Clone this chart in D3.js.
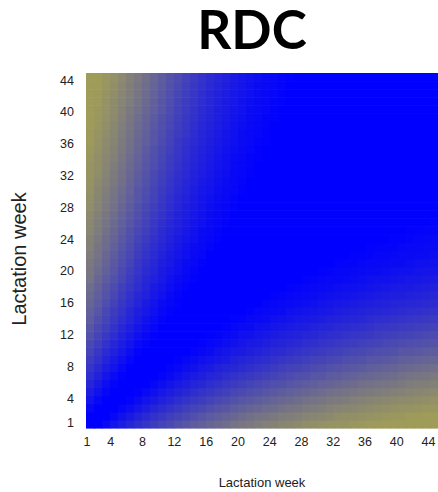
<!DOCTYPE html>
<html>
<head>
<meta charset="utf-8">
<script src="https://cdn.jsdelivr.net/npm/d3@7"></script>
<style>
  body { margin: 0; background: #fff; }
  .tick text { font-family: "Liberation Sans", Arial, sans-serif; font-size: 12.5px; fill: #222; }
</style>
</head>
<body>
<svg id="chart" width="438" height="492"></svg>
<script>
const weeks = [1, 2, 3, 4, 5, 6, 7, 8, 9, 10, 11, 12, 13, 14, 15, 16, 17, 18, 19, 20, 21, 22,
  23, 24, 25, 26, 27, 28, 29, 30, 31, 32, 33, 34, 35, 36, 37, 38, 39, 40, 41, 42, 43, 44];
const tickWeeks = [1, 4, 8, 12, 16, 20, 24, 28, 32, 36, 40, 44];

// correlation of week a with weeks a..44 (matrix is symmetric)
const rdc = [
  [1.00,.94,.88,.83,.78,.73,.69,.65,.61,.57,.54,.50,.47,.44,.42,.39,.37,.35,.32,.30,.29,.27,.25,.24,.22,.21,.20,.18,.17,.16,.15,.14,.14,.13,.12,.11,.11,.10,.09,.09,.08,.08,.07,.07],
  [1.00,.95,.89,.84,.80,.75,.71,.67,.64,.60,.57,.54,.51,.48,.45,.43,.41,.38,.36,.34,.32,.31,.29,.27,.26,.25,.23,.22,.21,.20,.18,.17,.17,.16,.15,.14,.13,.12,.12,.11,.11,.10,.09],
  [1.00,.95,.90,.86,.82,.78,.74,.70,.67,.63,.60,.57,.55,.52,.49,.47,.44,.42,.40,.38,.36,.35,.33,.31,.30,.28,.27,.26,.24,.23,.22,.21,.20,.19,.18,.17,.16,.15,.15,.14,.13,.13],
  [1.00,.96,.91,.87,.83,.80,.76,.73,.69,.66,.63,.61,.58,.55,.53,.50,.48,.46,.44,.42,.40,.38,.37,.35,.33,.32,.31,.29,.28,.27,.25,.24,.23,.22,.21,.20,.19,.19,.18,.17,.16],
  [1.00,.96,.92,.88,.85,.81,.78,.75,.72,.69,.66,.64,.61,.59,.56,.54,.52,.50,.48,.46,.44,.42,.41,.39,.37,.36,.34,.33,.32,.30,.29,.28,.27,.26,.25,.24,.23,.22,.21,.20],
  [1.00,.96,.93,.90,.86,.83,.80,.77,.74,.72,.69,.67,.64,.62,.60,.57,.55,.53,.51,.50,.48,.46,.44,.43,.41,.40,.38,.37,.36,.34,.33,.32,.31,.30,.29,.27,.26,.26,.25],
  [1.00,.97,.94,.91,.88,.85,.82,.79,.77,.74,.72,.69,.67,.65,.63,.61,.59,.57,.55,.53,.51,.50,.48,.47,.45,.44,.42,.41,.39,.38,.37,.36,.35,.33,.32,.31,.30,.29],
  [1.00,.97,.94,.91,.89,.86,.84,.81,.79,.76,.74,.72,.70,.68,.66,.64,.62,.60,.58,.57,.55,.53,.52,.50,.49,.47,.46,.45,.43,.42,.41,.40,.38,.37,.36,.35,.34],
  [1.00,.97,.95,.92,.90,.87,.85,.83,.81,.79,.76,.74,.72,.70,.69,.67,.65,.63,.62,.60,.58,.57,.55,.54,.52,.51,.50,.48,.47,.46,.45,.43,.42,.41,.40,.39],
  [1.00,.98,.95,.93,.91,.89,.87,.84,.82,.80,.79,.77,.75,.73,.71,.70,.68,.66,.65,.63,.62,.60,.59,.57,.56,.55,.53,.52,.51,.50,.48,.47,.46,.45,.44],
  [1.00,.98,.96,.94,.92,.90,.88,.86,.84,.82,.80,.79,.77,.75,.74,.72,.71,.69,.68,.66,.65,.63,.62,.61,.59,.58,.57,.55,.54,.53,.52,.51,.50,.49],
  [1.00,.98,.96,.94,.92,.91,.89,.87,.85,.84,.82,.81,.79,.77,.76,.75,.73,.72,.70,.69,.68,.66,.65,.64,.63,.61,.60,.59,.58,.57,.56,.54,.53],
  [1.00,.98,.97,.95,.93,.92,.90,.88,.87,.85,.84,.82,.81,.79,.78,.77,.75,.74,.73,.71,.70,.69,.68,.67,.65,.64,.63,.62,.61,.60,.59,.58],
  [1.00,.98,.97,.95,.94,.92,.91,.89,.88,.87,.85,.84,.83,.81,.80,.79,.78,.76,.75,.74,.73,.72,.70,.69,.68,.67,.66,.65,.64,.63,.62],
  [1.00,.99,.97,.96,.94,.93,.92,.90,.89,.88,.87,.85,.84,.83,.82,.81,.80,.78,.77,.76,.75,.74,.73,.72,.71,.70,.69,.68,.67,.66],
  [1.00,.99,.97,.96,.95,.94,.93,.91,.90,.89,.88,.87,.86,.85,.83,.82,.81,.80,.79,.78,.77,.76,.75,.74,.73,.72,.72,.71,.70],
  [1.00,.99,.98,.97,.95,.94,.93,.92,.91,.90,.89,.88,.87,.86,.85,.84,.83,.82,.81,.80,.79,.78,.77,.77,.76,.75,.74,.73],
  [1.00,.99,.98,.97,.96,.95,.94,.93,.92,.91,.90,.89,.88,.87,.86,.85,.85,.84,.83,.82,.81,.80,.79,.79,.78,.77,.76],
  [1.00,.99,.98,.97,.96,.95,.95,.94,.93,.92,.91,.90,.89,.89,.88,.87,.86,.85,.84,.84,.83,.82,.81,.81,.80,.79],
  [1.00,.99,.98,.98,.97,.96,.95,.94,.93,.93,.92,.91,.90,.90,.89,.88,.87,.87,.86,.85,.84,.84,.83,.82,.82],
  [1.00,.99,.98,.98,.97,.96,.96,.95,.94,.93,.93,.92,.91,.91,.90,.89,.89,.88,.87,.87,.86,.85,.85,.84],
  [1.00,.99,.99,.98,.97,.97,.96,.95,.95,.94,.93,.93,.92,.92,.91,.90,.90,.89,.88,.88,.87,.87,.86],
  [1.00,.99,.99,.98,.98,.97,.96,.96,.95,.95,.94,.93,.93,.92,.92,.91,.91,.90,.89,.89,.88,.88],
  [1.00,.99,.99,.98,.98,.97,.97,.96,.96,.95,.95,.94,.94,.93,.93,.92,.92,.91,.90,.90,.89],
  [1.00,.99,.99,.99,.98,.98,.97,.97,.96,.96,.95,.95,.94,.94,.93,.93,.92,.92,.91,.91],
  [1.00,1.00,.99,.99,.98,.98,.97,.97,.96,.96,.96,.95,.95,.94,.94,.93,.93,.93,.92],
  [1.00,1.00,.99,.99,.98,.98,.98,.97,.97,.96,.96,.96,.95,.95,.94,.94,.94,.93],
  [1.00,1.00,.99,.99,.99,.98,.98,.97,.97,.97,.96,.96,.96,.95,.95,.95,.94],
  [1.00,1.00,.99,.99,.99,.98,.98,.98,.97,.97,.97,.96,.96,.96,.95,.95],
  [1.00,1.00,.99,.99,.99,.99,.98,.98,.98,.97,.97,.97,.96,.96,.96],
  [1.00,1.00,.99,.99,.99,.99,.98,.98,.98,.98,.97,.97,.97,.97],
  [1.00,1.00,1.00,.99,.99,.99,.99,.98,.98,.98,.98,.97,.97],
  [1.00,1.00,1.00,.99,.99,.99,.99,.98,.98,.98,.98,.98],
  [1.00,1.00,1.00,.99,.99,.99,.99,.99,.98,.98,.98],
  [1.00,1.00,1.00,.99,.99,.99,.99,.99,.99,.98],
  [1.00,1.00,1.00,1.00,.99,.99,.99,.99,.99],
  [1.00,1.00,1.00,1.00,.99,.99,.99,.99],
  [1.00,1.00,1.00,1.00,1.00,.99,.99],
  [1.00,1.00,1.00,1.00,1.00,.99],
  [1.00,1.00,1.00,1.00,1.00],
  [1.00,1.00,1.00,1.00],
  [1.00,1.00,1.00],
  [1.00,1.00],
  [1.00]
];

const svg = d3.select('#chart');

const x = d3.scaleBand().domain(weeks).range([86, 438]);
const y = d3.scaleBand().domain(weeks).range([428, 73]);
// tick labels sit slightly off the cell centres in the original
const xTick = d3.scaleLinear().domain([1, 44]).range([86.5, 428]);
const yTick = d3.scaleLinear().domain([1, 44]).range([422, 80]);

const color = d3.scaleLinear()
  .domain([0.10, 0.93])
  .range(['#9f9c5a', '#0000ff'])
  .interpolate(d3.interpolateRgb)
  .clamp(true);

const cells = [];
weeks.forEach((i) => {
  weeks.forEach((j) => {
    const a = Math.min(i, j);
    const b = Math.max(i, j);
    cells.push({ i, j, v: rdc[a - 1][b - a] });
  });
});

svg.append('g')
  .selectAll('rect')
  .data(cells)
  .join('rect')
  .attr('x', (d) => x(d.i))
  .attr('y', (d) => y(d.j))
  .attr('width', x.bandwidth() + 0.6)
  .attr('height', y.bandwidth() + 0.6)
  .attr('fill', (d) => color(d.v));

svg.append('g')
  .attr('transform', 'translate(0,431)')
  .call(d3.axisBottom(xTick).tickValues(tickWeeks).tickSize(0).tickPadding(6))
  .call((g) => g.select('.domain').remove());

svg.append('g')
  .attr('transform', 'translate(80,0)')
  .call(d3.axisLeft(yTick).tickValues(tickWeeks).tickSize(0).tickPadding(6))
  .call((g) => g.select('.domain').remove());

svg.append('text')
  .attr('x', 252)
  .attr('y', 49)
  .attr('text-anchor', 'middle')
  .style('font-family', 'Lato, "Open Sans", sans-serif')
  .style('font-weight', 700)
  .style('font-size', '53px')
  .style('fill', '#000')
  .text('RDC');

svg.append('text')
  .attr('x', 262)
  .attr('y', 487)
  .attr('text-anchor', 'middle')
  .style('font-family', '"Liberation Sans", Arial, sans-serif')
  .style('font-size', '13px')
  .style('fill', '#222')
  .text('Lactation week');

svg.append('text')
  .attr('transform', 'translate(26,259) rotate(-90)')
  .attr('text-anchor', 'middle')
  .style('font-family', '"Liberation Sans", Arial, sans-serif')
  .style('font-size', '20px')
  .style('fill', '#222')
  .text('Lactation week');
</script>
</body>
</html>
